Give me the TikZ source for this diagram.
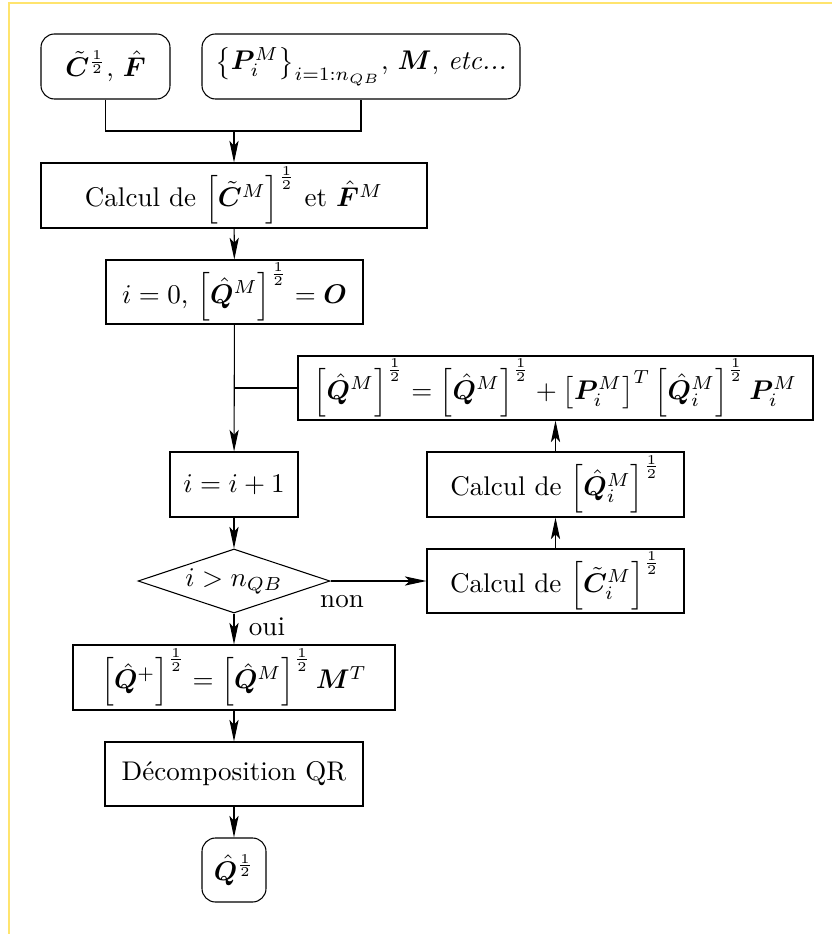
\documentclass[tikz,border=0pt]{standalone}
\usepackage{amsmath}
\usepackage{bm}
\usetikzlibrary{shapes.geometric,arrows.meta}
\definecolor{frameyellow}{RGB}{255,228,110}
\newcommand{\uu}{0.37pt}
\tikzset{
  box/.style 2 args={draw, rectangle, inner sep=0pt, minimum width=#1*\uu, minimum height=#2*\uu, align=center},
  rbox/.style 2 args={box={#1}{#2}, rounded corners=5pt},
  decision/.style={draw, diamond, inner sep=0pt, minimum width=192*\uu, minimum height=64*\uu, aspect=3},
  arr/.style={-{Stealth[length=8pt,width=3.4pt,inset=1.8pt]}},
  lbl/.style={inner sep=0pt}
}
\begin{document}
\begin{tikzpicture}[x=\uu, y=-\uu, line width=0.4pt]
\useasboundingbox (0,0) rectangle (832,934);
\draw[frameyellow, line width=0.8pt] (9,934) -- (9,3) -- (832,3);

\node[rbox={129}{65}] (A) at (105.5,66.5) {$\tilde{\bm C}^{\frac{1}{2}}$, $\hat{\bm F}$};
\node[rbox={318}{65}] (B) at (361,66.5) {$\left\{\bm P_i^M\right\}_{i=1:n_{QB}}$, $\bm M$, \textit{etc...}};
\node[box={386}{65}] (C) at (234,195.5) {Calcul de $\left[\tilde{\bm C}^M\right]^{\frac{1}{2}}$ et $\hat{\bm F}^M$};
\node[box={257}{64}] (D) at (234.5,292) {$i=0$, $\left[\hat{\bm Q}^M\right]^{\frac{1}{2}}=\bm O$};
\node[box={515}{64}] (F) at (555.5,388) {$\left[\hat{\bm Q}^M\right]^{\frac{1}{2}}=\left[\hat{\bm Q}^M\right]^{\frac{1}{2}}+\left[\bm P_i^M\right]^T\left[\hat{\bm Q}_i^M\right]^{\frac{1}{2}}\bm P_i^M$};
\node[box={128}{65}] (E) at (234,484.5) {$i=i+1$};
\node[box={257}{65}] (H) at (555.5,484.5) {Calcul de $\left[\hat{\bm Q}_i^M\right]^{\frac{1}{2}}$};
\node[decision] (dec) at (234,581) {$i>n_{QB}$};
\node[box={257}{64}] (G) at (555.5,581) {Calcul de $\left[\tilde{\bm C}_i^M\right]^{\frac{1}{2}}$};
\node[box={322}{65}] (I) at (234,677.5) {$\left[\hat{\bm Q}^+\right]^{\frac{1}{2}}=\left[\hat{\bm Q}^M\right]^{\frac{1}{2}}\bm M^T$};
\node[box={258}{64}] (J) at (234,774) {Décomposition QR};
\node[rbox={64}{64}] (K) at (234,870) {$\hat{\bm Q}^{\frac{1}{2}}$};

\coordinate (join) at (234,131);
\draw (A.south) |- (join) -| (B.south);
\draw[arr] (join) -- (C.north);
\draw[arr] (C) -- (D);
\draw[arr] (D) -- (E);
\coordinate (branch) at (D.south |- F.west);
\draw (branch) -- (F.west);
\draw[arr] (E) -- (dec);
\draw[arr] (dec) -- (I);
\draw[arr] (dec.east) -- (G.west);
\draw[arr] (G) -- (H);
\draw[arr] (H) -- (F);
\draw[arr] (I) -- (J);
\draw[arr] (J) -- (K);
\node[lbl] (non) at (342,602) {non};
\node[lbl] (oui) at (267,627) {oui};
\end{tikzpicture}
\end{document}
